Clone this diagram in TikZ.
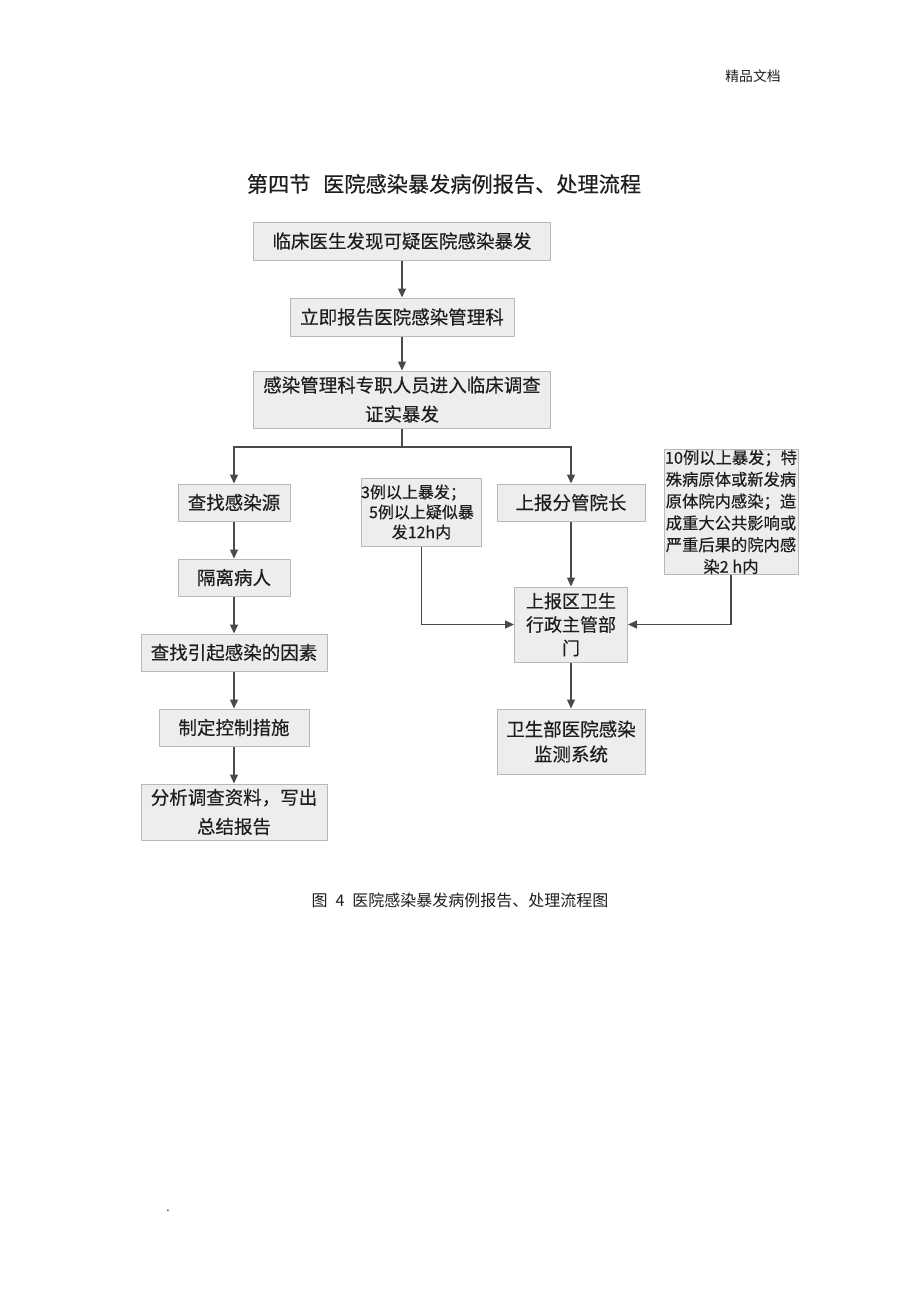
\documentclass[tikz,border=0pt]{standalone}
\usepackage{fontspec}
\setmainfont{Noto Sans CJK SC}
\newfontfamily\boxf{Noto Sans CJK SC}[FakeBold=0.4]
\newfontfamily\plainf{Noto Sans CJK SC}
\usetikzlibrary{arrows.meta}
\definecolor{boxfill}{HTML}{EDEDED}
\definecolor{boxline}{HTML}{B8B8B8}
\definecolor{arrcol}{HTML}{4A4A4A}
\definecolor{txt}{HTML}{1E1E1E}
\tikzset{
  box/.style={draw=boxline, fill=boxfill, line width=1pt, inner sep=0pt, align=center, text=txt,
    font=\boxf\fontsize{18.5}{29}\selectfont},
  smallbox/.style={box, font=\boxf\fontsize{16}{20}\selectfont},
  ln/.style={draw=arrcol, line width=1.3pt},
  arr/.style={ln, -{Triangle[length=9pt,width=8pt]}},
}
\begin{document}
\begin{tikzpicture}[x=1pt,y=-1pt]
\useasboundingbox[fill=white] (0,0) rectangle (920,1302);
\node[text=txt, font=\plainf\fontsize{13.8}{16}\selectfont] (hdr) at (753,76) {精品文档};
\node[text=txt, font=\boxf\fontsize{21.2}{24}\selectfont] (title) at (444,184) {第四节\hspace{0.6em}医院感染暴发病例报告、处理流程};
\node[box, minimum width=297, minimum height=38] (n1) at (402,241) {临床医生发现可疑医院感染暴发};
\node[box, minimum width=224, minimum height=38] (n2) at (402,317) {立即报告医院感染管理科};
\node[box, minimum width=297, minimum height=57] (n3) at (402,399.5) {感染管理科专职人员进入临床调查\\证实暴发};
\node[box, minimum width=112, minimum height=37] (n4) at (234,502.5) {查找感染源};
\node[box, minimum width=112, minimum height=37] (n5) at (234,577.5) {隔离病人};
\node[box, minimum width=186, minimum height=37] (n6) at (234,652.5) {查找引起感染的因素};
\node[box, minimum width=150, minimum height=37] (n7) at (234,727.5) {制定控制措施};
\node[box, minimum width=186, minimum height=56] (n8) at (234,812) {分析调查资料，写出\\总结报告};
\node[smallbox, minimum width=114, minimum height=68] (n9) at (421.5,512) {3例以上暴发；\phantom{暴}\\5例以上疑似暴\\发12h内};
\node[box, minimum width=148, minimum height=37] (n10) at (571,502.5) {上报分管院长};
\node[box, minimum width=113, minimum height=75, font=\boxf\fontsize{18}{23.5}\selectfont] (n11) at (571,624.5) {上报区卫生\\行政主管部\\门};
\node[box, minimum width=134, minimum height=124, font=\boxf\fontsize{16.3}{21.8}\selectfont] (n12) at (731,512) {10例以上暴发；特\\殊病原体或新发病\\原体院内感染；造\\成重大公共影响或\\严重后果的院内感\\染2 h内};
\node[box, minimum width=148, minimum height=65, font=\boxf\fontsize{18.5}{25}\selectfont] (n13) at (571,741.5) {卫生部医院感染\\监测系统};
\coordinate (j) at (402,447);
\draw[arr] (n1.south) -- (n2.north);
\draw[arr] (n2.south) -- (n3.north);
\draw[ln] (n3.south) -- (j);
\draw[arr] (j) -| (n4.north);
\draw[arr] (j) -| (n10.north);
\draw[arr] (n4) -- (n5);
\draw[arr] (n5) -- (n6);
\draw[arr] (n6) -- (n7);
\draw[arr] (n7) -- (n8);
\draw[arr] (n9.south) |- (n11.west);
\draw[arr] (n12.south) |- (n11.east);
\draw[arr] (n10.south) -- (n11.north);
\draw[arr] (n11.south) -- (n13.north);
\node[text=txt, font=\plainf\fontsize{16}{18}\selectfont] (cap) at (460,900) {图\hspace{0.5em}4\hspace{0.5em}医院感染暴发病例报告、处理流程图};
\node[text=txt, font=\plainf\fontsize{12}{14}\selectfont] (dot) at (168,1211) {.};
\end{tikzpicture}
\end{document}
